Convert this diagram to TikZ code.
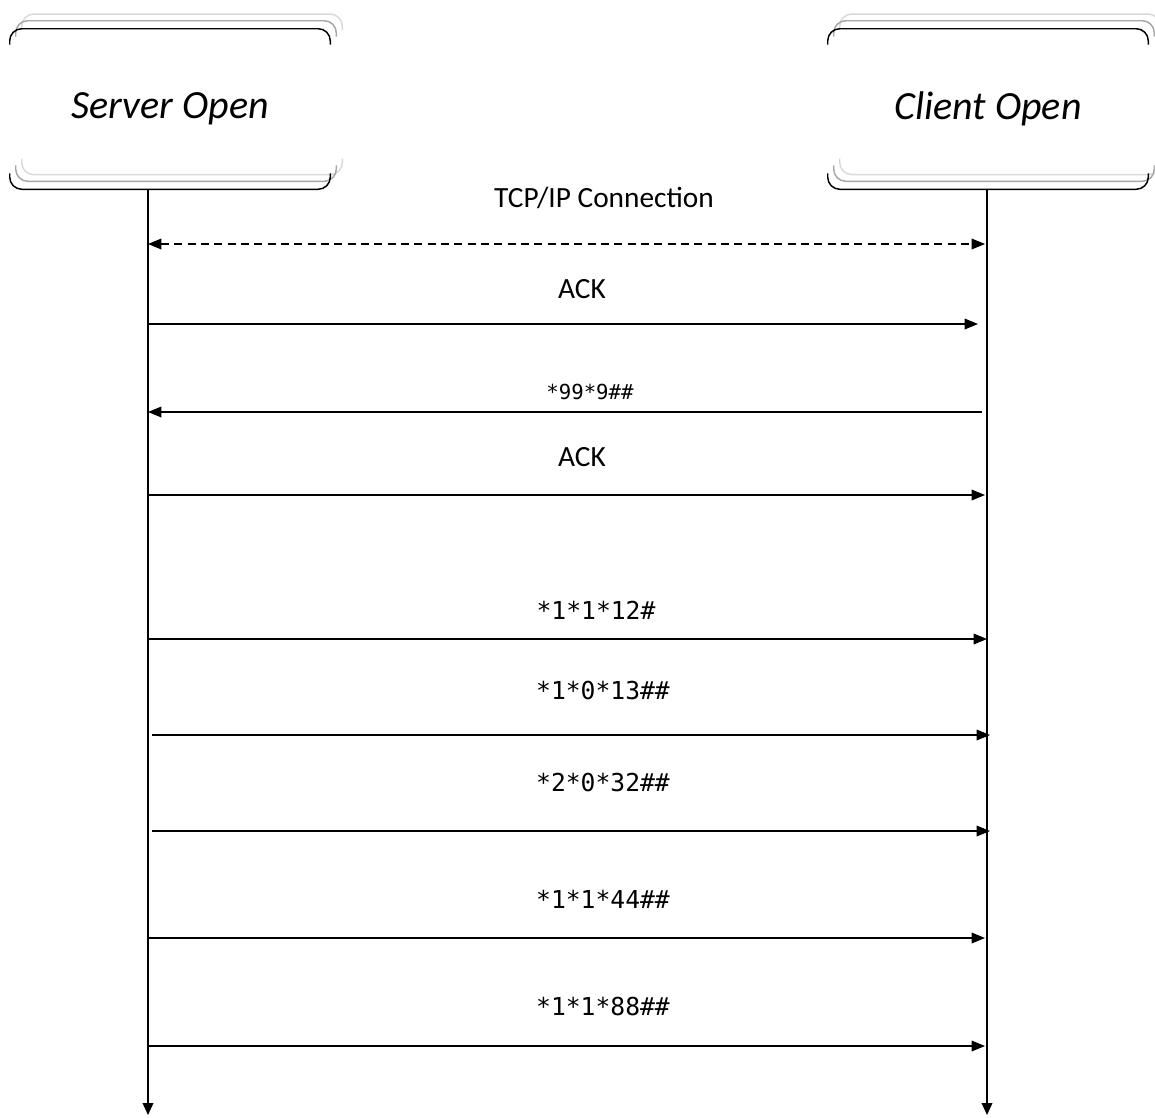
\documentclass[tikz,border=0pt]{standalone}
\usepackage{fontspec}
\setmainfont{Carlito}
\newfontfamily\codefont{DejaVu Sans Mono}
\usetikzlibrary{arrows.meta,calc}
\tikzstyle{actor}=[minimum width=240pt,minimum height=120pt,inner sep=0pt,font=\itshape\fontsize{30}{36}\selectfont]
\tikzstyle{lifeline}=[draw,line width=1.1pt,-{Triangle[length=9pt,width=8pt]}]
\tikzstyle{msg}=[draw,line width=0.9pt,-{Triangle[length=10pt,width=8pt]}]
\tikzstyle{msgtext}=[font=\fontsize{22}{26}\selectfont]
\tikzstyle{codetext}=[font=\codefont\fontsize{18.5}{22}\selectfont]

\begin{document}
\begin{tikzpicture}[x=0.75pt,y=-0.75pt]
    \useasboundingbox (0,0) rectangle (1155,1117);

    % the two parties
    \node[actor] (srv) at (170,109) {Server Open};
    \node[actor] (cli) at (988,109) {Client Open};

    % top and bottom edges, with two grey copies behind
    \foreach \n in {srv,cli}
      \foreach \dx/\dy/\col in {9/11/black!15, 4.5/6/black!35, 0/0/black} {
        \draw[\col,line width=1.1pt,rounded corners=9pt]
          ([xshift=\dx pt,yshift=\dy pt-12pt]\n.north west) -- ([xshift=\dx pt,yshift=\dy pt]\n.north west)
          -- ([xshift=\dx pt,yshift=\dy pt]\n.north east) -- ([xshift=\dx pt,yshift=\dy pt-12pt]\n.north east);
        \draw[\col,line width=1.1pt,rounded corners=9pt]
          ([xshift=\dx pt,yshift=\dy pt+12pt]\n.south west) -- ([xshift=\dx pt,yshift=\dy pt]\n.south west)
          -- ([xshift=\dx pt,yshift=\dy pt]\n.south east) -- ([xshift=\dx pt,yshift=\dy pt+12pt]\n.south east);
      }

    % life lines
    \coordinate (sEnd) at (148,1115);
    \coordinate (cEnd) at (987,1115);
    \path[lifeline] (sEnd |- srv.south) -- (sEnd);
    \path[lifeline] (cEnd |- cli.south) -- (cEnd);

    % connection set up
    \coordinate (m1s) at (148,244);
    \coordinate (m1e) at (985,244);
    \path[msg,dashed,dash pattern=on 6pt off 4pt,{Triangle[length=10pt,width=8pt]}-{Triangle[length=10pt,width=8pt]}] (m1s) -- (m1e);
    \node[msgtext] (l1) at (604,198) {TCP/IP Connection};

    \coordinate (m3s) at (982,412);
    \coordinate (m3e) at (148,412);
    \path[msg] (m3s) -- (m3e);
    \node[codetext,font=\codefont\fontsize{15.5}{18}\selectfont] (l3) at (590,392) {*99*9\#\#};

    % server to client messages
    \foreach \i/\y/\xs/\xe/\ly/\lx/\txt in {2/324/148/978/289/582/{ACK},
                                          4/495/148/985/457/582/{ACK}}
    {
        \coordinate (m\i s) at (\xs,\y);
        \coordinate (m\i e) at (\xe,\y);
        \path[msg] (m\i s) -- (m\i e);
        \node[msgtext] (l\i) at (\lx,\ly) {\txt};
    }
    \foreach \i/\y/\xs/\xe/\ly/\lx/\txt in {5/639/148/987/610/596/{*1*1*12\#},
                                          6/735/152/990/691/603/{*1*0*13\#\#},
                                          7/831/152/990/783/603/{*2*0*32\#\#},
                                          8/938/148/985/899/603/{*1*1*44\#\#},
                                          9/1046/148/985/1007/603/{*1*1*88\#\#}}
    {
        \coordinate (m\i s) at (\xs,\y);
        \coordinate (m\i e) at (\xe,\y);
        \path[msg] (m\i s) -- (m\i e);
        \node[codetext] (l\i) at (\lx,\ly) {\txt};
    }

\end{tikzpicture}
\end{document}
